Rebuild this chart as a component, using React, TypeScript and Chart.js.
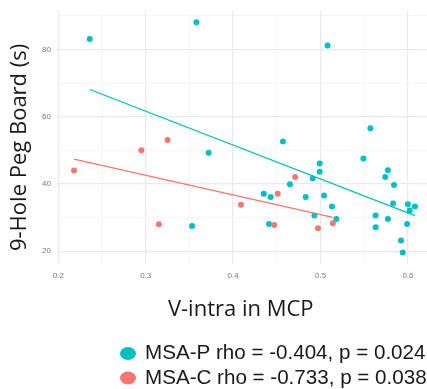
import React, { useEffect, useRef } from 'react';
import { Chart, registerables } from 'chart.js';

Chart.register(...registerables);

// ---- data ----
const msaPx = [0.236, 0.358, 0.372, 0.353, 0.508, 0.557, 0.457, 0.549, 0.499, 0.499, 0.577, 0.574, 0.491, 0.465, 0.584, 0.435, 0.443, 0.483, 0.504, 0.583, 0.600, 0.608, 0.602, 0.513, 0.493, 0.563, 0.518, 0.577, 0.441, 0.563, 0.599, 0.592, 0.594];
const msaPy = [83.1, 88.1, 49.3, 27.5, 81.2, 56.6, 52.6, 47.6, 46.1, 43.6, 44.1, 42.1, 41.6, 39.9, 39.7, 37.1, 36.1, 36.1, 36.6, 34.2, 34.0, 33.3, 32.1, 33.3, 30.6, 30.6, 29.6, 29.6, 28.1, 27.1, 28.1, 23.2, 19.6];

const msaCx = [0.218, 0.295, 0.325, 0.315, 0.409, 0.451, 0.471, 0.447, 0.497, 0.514];
const msaCy = [44.0, 50.0, 53.1, 28.0, 33.8, 37.1, 42.1, 27.8, 26.8, 28.3];

const fitPx = [0.236, 0.608];
const fitPy = [68.1, 30.6];
const fitCx = [0.218, 0.514];
const fitCy = [47.4, 30.1];

const xMajorTicks = [0.2, 0.3, 0.4, 0.5, 0.6];
const xMinorTicks = [0.25, 0.35, 0.45, 0.55];
const yMajorTicks = [20, 40, 60, 80];
const yMinorTicks = [30, 50, 70, 90];

const seriesLabels = ['MSA-P rho = -0.404, p = 0.024', 'MSA-C rho = -0.733, p = 0.038'];
const seriesColors = ['#00BFC4', '#F8766D'];
const xTitle = 'V-intra in MCP';
const yTitle = '9-Hole Peg Board (s)';

const toPoints = (xs: number[], ys: number[]) => xs.map((x, i) => ({ x, y: ys[i] }));
const isIn = (arr: number[], v: number) => arr.some((a) => Math.abs(a - v) < 1e-6);

const decorPlugin = {
  id: 'decor',
  afterDraw(chart: any) {
    const { ctx, chartArea } = chart;
    ctx.save();
    ctx.fillStyle = '#1a1a1a';
    ctx.font = '22px "Open Sans"';
    ctx.textAlign = 'center';
    ctx.textBaseline = 'alphabetic';
    ctx.fillText(xTitle, chartArea.left + (chartArea.right - chartArea.left) * 0.49, chartArea.bottom + 52);
    ctx.save();
    ctx.translate(26, (chartArea.top + chartArea.bottom) / 2 + 10);
    ctx.rotate(-Math.PI / 2);
    ctx.fillText(yTitle, 0, 0);
    ctx.restore();

    // legend
    const items = chart.data.datasets.filter((d: any) => d.legendText);
    items.forEach((d: any, i: number) => {
      const cy = chartArea.bottom + 89.5 + i * 24.5;
      ctx.beginPath();
      ctx.fillStyle = d.backgroundColor;
      ctx.ellipse(128, cy, 8, 6.5, 0, 0, Math.PI * 2);
      ctx.fill();
      ctx.fillStyle = '#1a1a1a';
      ctx.font = '20.6px "Liberation Sans"';
      ctx.textAlign = 'left';
      ctx.textBaseline = 'middle';
      ctx.fillText(d.legendText, 145, cy);
    });
    ctx.restore();
  },
};

export default function App() {
  const ref = useRef<HTMLCanvasElement>(null);

  useEffect(() => {
    if (!ref.current) return;
    const chart = new Chart(ref.current, {
      type: 'scatter',
      data: {
        datasets: [
          {
            label: 'fitP',
            type: 'line',
            data: toPoints(fitPx, fitPy),
            borderColor: seriesColors[0],
            borderWidth: 1.3,
            pointRadius: 0,
            showLine: true,
            fill: false,
            order: 0,
          } as any,
          {
            label: 'fitC',
            type: 'line',
            data: toPoints(fitCx, fitCy),
            borderColor: seriesColors[1],
            borderWidth: 1.3,
            pointRadius: 0,
            showLine: true,
            fill: false,
            order: 0,
          } as any,
          {
            label: 'MSA-P',
            legendText: seriesLabels[0],
            data: toPoints(msaPx, msaPy),
            backgroundColor: seriesColors[0],
            borderWidth: 0,
            pointRadius: 3,
            order: 2,
          } as any,
          {
            label: 'MSA-C',
            legendText: seriesLabels[1],
            data: toPoints(msaCx, msaCy),
            backgroundColor: seriesColors[1],
            borderWidth: 0,
            pointRadius: 3,
            order: 1,
          } as any,
        ],
      },
      options: {
        animation: false,
        responsive: false,
        devicePixelRatio: 1,
        layout: { padding: { top: 10, right: 4, left: 0, bottom: 0 } },
        plugins: { legend: { display: false }, tooltip: { enabled: false } },
        scales: {
          x: {
            type: 'linear',
            min: 0.1985,
            max: 0.6275,
            afterBuildTicks: (scale: any) => {
              scale.ticks = [...xMajorTicks, ...xMinorTicks].sort((a, b) => a - b).map((v) => ({ value: v }));
            },
            afterFit: (scale: any) => {
              scale.height = 125;
            },
            border: { display: false },
            grid: {
              drawTicks: false,
              color: (c: any) => (isIn(xMajorTicks, c.tick?.value) ? '#EAEAEA' : '#F4F4F4'),
              lineWidth: (c: any) => (isIn(xMajorTicks, c.tick?.value) ? 1.3 : 0.9),
            },
            ticks: {
              autoSkip: false,
              maxRotation: 0,
              padding: 7,
              color: '#777',
              font: { family: '"Liberation Sans"', size: 8 },
              callback: (v: any) => (isIn(xMajorTicks, Number(v)) ? Number(v).toFixed(1) : ''),
            },
          },
          y: {
            type: 'linear',
            min: 16.2,
            max: 91.5,
            afterBuildTicks: (scale: any) => {
              scale.ticks = [...yMajorTicks, ...yMinorTicks].sort((a, b) => a - b).map((v) => ({ value: v }));
            },
            afterFit: (scale: any) => {
              scale.width = 57;
            },
            border: { display: false },
            grid: {
              drawTicks: false,
              color: (c: any) => (isIn(yMajorTicks, c.tick?.value) ? '#EAEAEA' : '#F4F4F4'),
              lineWidth: (c: any) => (isIn(yMajorTicks, c.tick?.value) ? 1.3 : 0.9),
            },
            ticks: {
              autoSkip: false,
              padding: 6,
              color: '#777',
              font: { family: '"Liberation Sans"', size: 8 },
              callback: (v: any) => (isIn(yMajorTicks, Number(v)) ? String(Number(v)) : ''),
            },
          },
        },
      } as any,
      plugins: [decorPlugin],
    });
    return () => chart.destroy();
  }, []);

  return (
    <div style={{ position: 'fixed', left: 0, top: 0, width: 427, height: 389, overflow: 'hidden', background: '#fff' }}>
      <canvas ref={ref} width={436} height={389} style={{ width: 436, height: 389, display: 'block' }} />
    </div>
  );
}
